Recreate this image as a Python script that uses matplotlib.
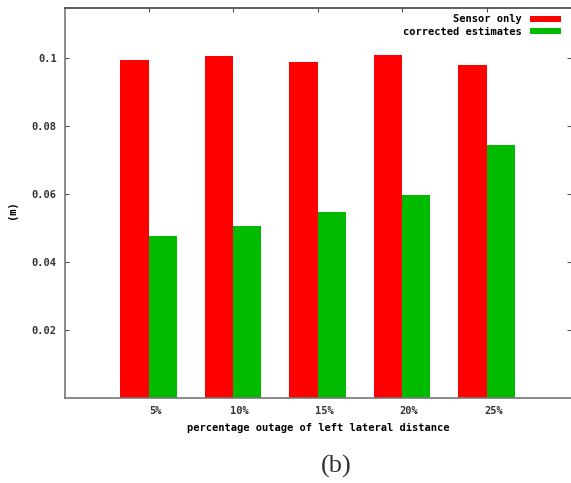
import matplotlib
matplotlib.use("Agg")
import matplotlib.pyplot as plt
import numpy as np

categories = ["5%", "10%", "15%", "20%", "25%"]
sensor_only = [0.0995, 0.1005, 0.0987, 0.1009, 0.0979]
corrected = [0.0477, 0.0507, 0.0548, 0.0596, 0.0745]
ytick_vals = [0.02, 0.04, 0.06, 0.08, 0.1]
ytick_labels = ["0.02", "0.04", "0.06", "0.08", "0.1"]

fig = plt.figure(figsize=(5.71, 4.83), dpi=100)
ax = fig.add_axes([65/571, 1-398/483, 1-65/571, 390/483])

font = dict(family="DejaVu Sans Mono", weight="bold", size=7.5)
x = np.arange(len(categories))
w = 0.335
ax.bar(x - w/2, sensor_only, w, color="#ff0000", label="Sensor only")
ax.bar(x + w/2, corrected, w, color="#00bb00", label="corrected estimates")

ax.set_xlim(-0.99, 5.0)
ax.set_ylim(0, 0.1147)
ax.set_xticks(x + 0.08)
ax.set_xticklabels(categories, **font, color="#333333")
ax.set_yticks(ytick_vals)
ax.set_yticklabels(ytick_labels, **font, color="#333333")
ax.tick_params(axis="x", length=0, pad=6)
ax.tick_params(axis="y", direction="in", length=3, color="#555555", right=True, pad=6)
ax.spines["right"].set_visible(False)
for s in ["left", "bottom", "top"]:
    ax.spines[s].set_color("#777777")
    ax.spines[s].set_linewidth(1.2)
ax.spines["top"].set_color("#444444")
ax2 = ax.secondary_xaxis("top")
ax2.set_xticks(x)
ax2.set_xticklabels([])
ax2.tick_params(direction="in", length=3, color="#555555")
ax2.spines["top"].set_visible(False)

ax.set_xlabel("percentage outage of left lateral distance", **font, labelpad=5)
fig.text(12/571, 1-210/483, "(m)", rotation=90, ha="center", va="center", **font)

leg = ax.legend(loc="upper right", frameon=False, prop=dict(family="DejaVu Sans Mono", weight="bold", size=7.5),
                markerfirst=False, handlelength=3.0, handleheight=0.5, borderaxespad=0.2,
                labelspacing=0.25, handletextpad=0.8, bbox_to_anchor=(0.993, 1.0))

fig.text(336/571, 1-466/483, "(b)", ha="center", va="center", family="Liberation Serif", size=19, color="#333333")

fig.savefig("out.png", dpi=100)
